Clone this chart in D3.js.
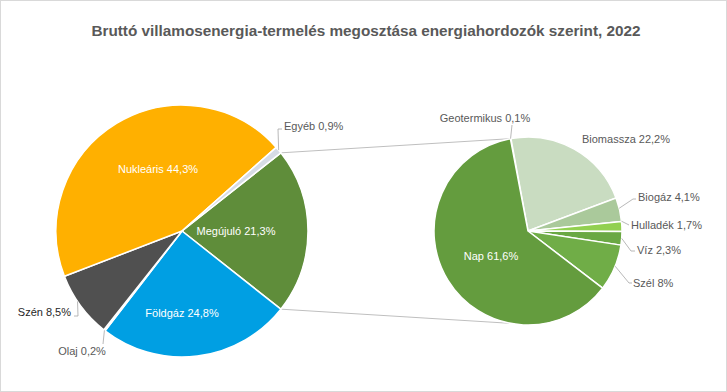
<!DOCTYPE html>
<html>
<head>
<meta charset="utf-8">
<script src="https://cdn.jsdelivr.net/npm/d3@7"></script>
<style>
  body { margin: 0; background: #fff; }
  svg { display: block; font-family: "Liberation Sans", Arial, sans-serif; }
</style>
</head>
<body>
<div id="chart"></div>
<script>
// main pie (order = clockwise, starting with the "other" slice)
var mainNames  = ["Megújuló", "Földgáz", "Olaj", "Szén", "Nukleáris", "Egyéb"];
var mainValues = [21.3, 24.8, 0.2, 8.5, 44.3, 0.9];
var mainLabels = ["21,3%", "24,8%", "0,2%", "8,5%", "44,3%", "0,9%"];
var mainColors = ["#5f8d3a", "#009fe3", "#7f7f7f", "#505050", "#ffb000", "#d6dce5"];

// secondary pie = breakdown of Megújuló
var subNames  = ["Geotermikus", "Biomassza", "Biogáz", "Hulladék", "Víz", "Szél", "Nap"];
var subValues = [0.1, 22.2, 4.1, 1.7, 2.3, 8, 61.6];
var subLabels = ["0,1%", "22,2%", "4,1%", "1,7%", "2,3%", "8%", "61,6%"];
var subColors = ["#548235", "#c9dcc1", "#aac99b", "#92d050", "#6aa843", "#70ad47", "#649c3e"];

var W = 727, H = 392;
var deg = Math.PI / 180;

var svg = d3.select("#chart").append("svg")
    .attr("width", W)
    .attr("height", H);

svg.append("rect")
    .attr("x", 0.5).attr("y", 0.5)
    .attr("width", W - 1).attr("height", H - 1)
    .attr("fill", "#fff")
    .attr("stroke", "#d9d9d9");

svg.append("text")
    .attr("x", 366)
    .attr("y", 36)
    .attr("text-anchor", "middle")
    .attr("font-size", "15.3px")
    .attr("font-weight", "bold")
    .attr("fill", "#595959")
    .text("Bruttó villamosenergia-termelés megosztása energiahordozók szerint, 2022");

var c1 = {x: 182, y: 231, r: 126};
var c2 = {x: 528, y: 231, r: 94};

// the "other" slice is centered at 3 o'clock
var mainStart = 90 * deg - (mainValues[0] / 100) * Math.PI;
var mainPie = d3.pie().sort(null).startAngle(mainStart).endAngle(mainStart + 2 * Math.PI);
var subStart = -10.8 * deg;
var subPie = d3.pie().sort(null).startAngle(subStart).endAngle(subStart + 2 * Math.PI);

var arc1 = d3.arc().innerRadius(0).outerRadius(c1.r);
var arc2 = d3.arc().innerRadius(0).outerRadius(c2.r);

function pt(c, a, r) {
  return [c.x + r * Math.sin(a), c.y - r * Math.cos(a)];
}

var mainArcs = mainPie(mainValues);
var subArcs = subPie(subValues);

// connector lines
var m = mainArcs[0];
var conn = [
  [pt(c1, m.startAngle, c1.r), pt(c2, subStart, c2.r)],
  [pt(c1, m.endAngle, c1.r), pt(c2, Math.PI - subStart, c2.r)]
];
svg.selectAll(".conn").data(conn).enter().append("line")
    .attr("class", "conn")
    .attr("x1", function(d) { return d[0][0]; })
    .attr("y1", function(d) { return d[0][1]; })
    .attr("x2", function(d) { return d[1][0]; })
    .attr("y2", function(d) { return d[1][1]; })
    .attr("stroke", "#bfbfbf")
    .attr("stroke-width", 1);

var g1 = svg.append("g").attr("transform", "translate(" + c1.x + "," + c1.y + ")");
g1.selectAll("path").data(mainArcs).enter().append("path")
    .attr("d", arc1)
    .attr("fill", function(d, i) { return mainColors[i]; })
    .attr("stroke", "#fff")
    .attr("stroke-width", 1.5)
    .attr("stroke-linejoin", "round");

var g2 = svg.append("g").attr("transform", "translate(" + c2.x + "," + c2.y + ")");
g2.selectAll("path").data(subArcs).enter().append("path")
    .attr("d", arc2)
    .attr("fill", function(d, i) { return subColors[i]; })
    .attr("stroke", "#fff")
    .attr("stroke-width", 1.5)
    .attr("stroke-linejoin", "round");

// label placement: [x, y, anchor, color, leader points]
var mainPos = [
  {x: 236, y: 235, a: "middle", c: "#fff"},
  {x: 182, y: 317, a: "middle", c: "#fff"},
  {x: 82, y: 355, a: "middle", c: "#595959", lead: [[0, 218.0], [103, 344]]},
  {x: 71, y: 316, a: "end", c: "#262626", lead: [[0, 236], [78, 316], [74, 316]]},
  {x: 158, y: 173, a: "middle", c: "#fff"},
  {x: 284, y: 130, a: "start", c: "#595959", lead: [[0, 50.1], [278, 129], [282, 129]]}
];
var subPos = [
  {x: 485, y: 122, a: "middle", c: "#595959", lead: [[0, -10.7], [512, 125]]},
  {x: 626, y: 143, a: "middle", c: "#595959"},
  {x: 638, y: 201, a: "start", c: "#595959", lead: [[0, 76], [633, 199], [636, 199]]},
  {x: 631, y: 229, a: "start", c: "#595959", lead: [[0, 84], [629, 225]]},
  {x: 637, y: 254, a: "start", c: "#595959", lead: [[0, 94.5], [631, 251], [635, 251]]},
  {x: 633, y: 287, a: "start", c: "#595959", lead: [[0, 112], [629, 283], [632, 283]]},
  {x: 491, y: 260, a: "middle", c: "#fff"}
];

function drawLabels(c, names, labels, pos) {
  pos.forEach(function(p, i) {
    if (p.lead) {
      var p0 = pt(c, p.lead[0][1] * deg, c.r);
      var pts = [p0].concat(p.lead.slice(1));
      svg.append("path")
          .attr("d", d3.line()(pts))
          .attr("fill", "none")
          .attr("stroke", "#a6a6a6")
          .attr("stroke-width", 0.8);
    }
    svg.append("text")
        .attr("x", p.x)
        .attr("y", p.y)
        .attr("text-anchor", p.a)
        .attr("font-size", "11px")
        .attr("fill", p.c)
        .text(names[i] + " " + labels[i]);
  });
}

drawLabels(c1, mainNames, mainLabels, mainPos);
drawLabels(c2, subNames, subLabels, subPos);
</script>
</body>
</html>
